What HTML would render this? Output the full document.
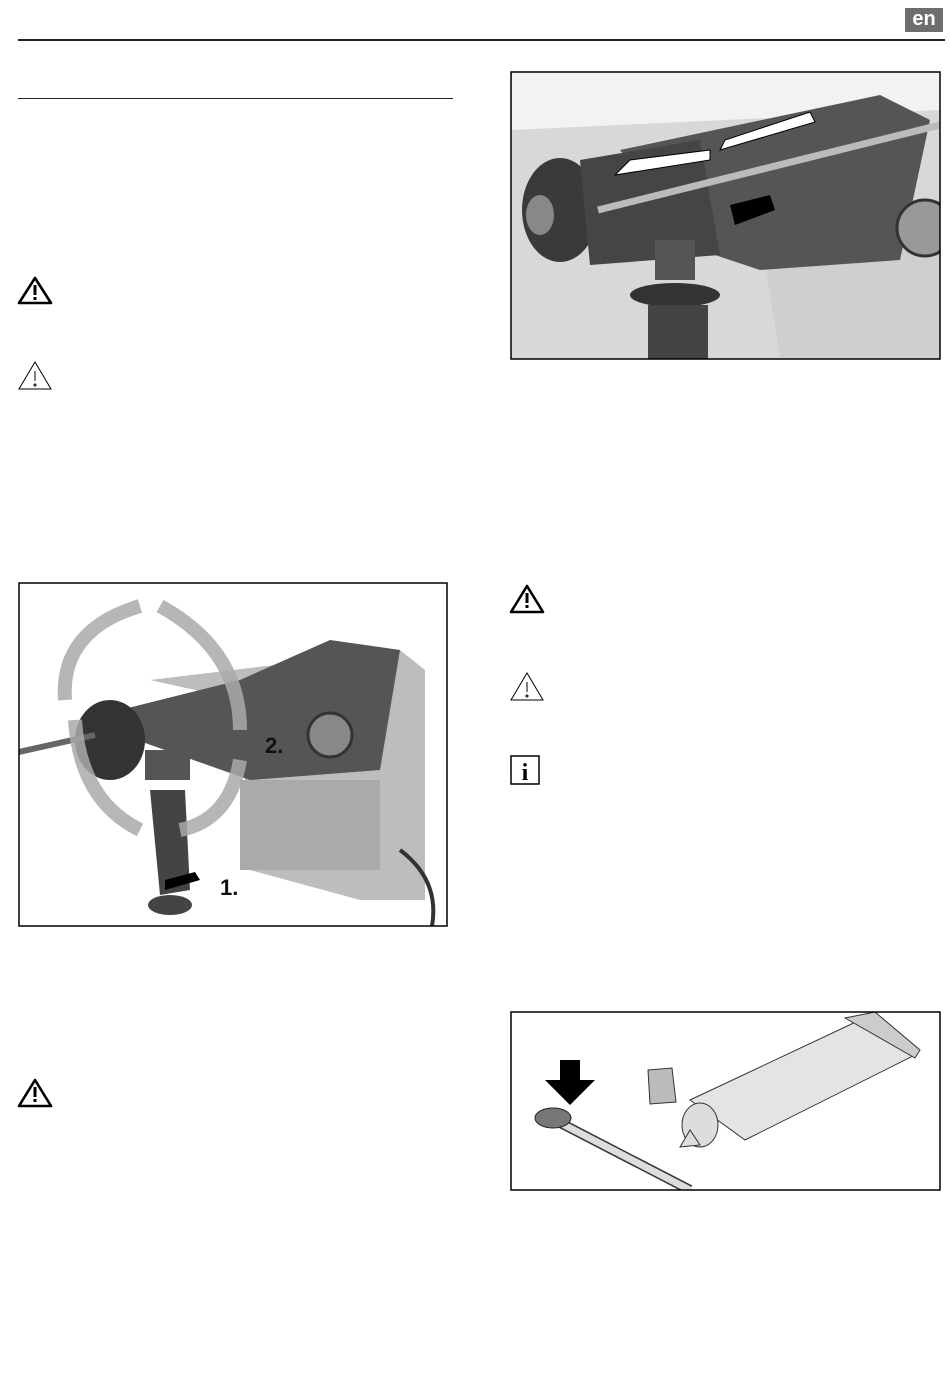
<!DOCTYPE html>
<html><head><meta charset="utf-8">
<style>
html,body{margin:0;padding:0;background:#fff;}
body{width:950px;height:1389px;position:relative;overflow:hidden;font-family:"Liberation Sans",sans-serif;}
.abs{position:absolute;}
</style></head><body>
<div class="abs" style="left:905px;top:8px;width:38px;height:24px;background:#6e6e6e;color:#fff;font-weight:bold;font-size:20px;line-height:23px;text-align:center;">en</div>
<div class="abs" style="left:18px;top:39px;width:927px;height:2px;background:#222;"></div>
<div class="abs" style="left:18px;top:98px;width:435px;height:1px;background:#222;"></div>

<svg class="abs" style="left:0;top:0" width="950" height="1389">
 <defs>
  <clipPath id="c1"><rect x="511" y="72" width="429" height="287"/></clipPath>
  <clipPath id="c2"><rect x="19" y="583" width="428" height="343"/></clipPath>
  <clipPath id="c3"><rect x="511" y="1012" width="429" height="178"/></clipPath>
 </defs>
 <g fill="none" stroke="#000" stroke-width="2.6" stroke-linejoin="round">
  <path d="M35 278 L51 303 L19 303 Z"/>
  <path d="M35 1080 L51 1106 L19 1106 Z"/>
  <path d="M527 586 L543 612 L511 612 Z"/>
 </g>
 <g fill="#000"><rect x="33.5" y="285" width="3" height="10"/><rect x="33.5" y="297" width="3" height="3"/>
  <rect x="33.5" y="1087" width="3" height="10"/><rect x="33.5" y="1099" width="3" height="3"/>
  <rect x="525.5" y="593" width="3" height="10"/><rect x="525.5" y="605" width="3" height="3"/></g>
 <g fill="none" stroke="#000" stroke-width="1">
  <path d="M35 362 L51 389 L19 389 Z"/><line x1="35" y1="371" x2="35" y2="381"/><circle cx="35" cy="385" r="1"/>
  <path d="M527 673 L543 700 L511 700 Z"/><line x1="527" y1="682" x2="527" y2="692"/><circle cx="527" cy="696" r="1"/>
 </g>
 <rect x="511" y="756" width="28" height="28" fill="none" stroke="#000" stroke-width="1.5"/>
 <text x="525" y="780" font-family="Liberation Serif,serif" font-weight="bold" font-size="24" text-anchor="middle">i</text>

 <g clip-path="url(#c1)">
 <rect x="511" y="72" width="429" height="287" fill="#d8d8d8"/>
 <path d="M512 72 L940 72 L940 110 L512 130 Z" fill="#f2f2f2"/>
 <path d="M760 230 L940 200 L940 358 L780 358 Z" fill="#cfcfcf"/>
 <path d="M620 150 L880 95 L930 120 L900 260 L760 270 L700 250 Z" fill="#555"/>
 <ellipse cx="560" cy="210" rx="38" ry="52" fill="#3a3a3a"/>
 <ellipse cx="540" cy="215" rx="14" ry="20" fill="#888"/>
 <path d="M580 160 L700 140 L720 255 L590 265 Z" fill="#454545"/>
 <rect x="655" y="240" width="40" height="40" fill="#555"/>
 <ellipse cx="675" cy="295" rx="45" ry="12" fill="#333"/>
 <rect x="648" y="305" width="60" height="54" fill="#444"/>
 <line x1="598" y1="210" x2="940" y2="125" stroke="#bbb" stroke-width="7"/>
 <path d="M615 175 L710 160 L710 150 L630 160 Z" fill="#fff" stroke="#000"/>
 <path d="M720 150 L815 122 L810 112 L725 140 Z" fill="#fff" stroke="#000"/>
 <path d="M730 205 L770 195 L775 210 L735 225 Z" fill="#000"/>
 <circle cx="925" cy="228" r="28" fill="#999" stroke="#333" stroke-width="3"/>
 </g>
 <rect x="511" y="72" width="429" height="287" fill="none" stroke="#000" stroke-width="1.5"/>

 <g clip-path="url(#c2)">
 <rect x="19" y="583" width="428" height="343" fill="#fff"/>
 <path d="M150 680 L400 650 L425 670 L425 900 L360 900 L250 870 L240 700 Z" fill="#bdbdbd"/>
 <path d="M80 720 L240 680 L330 640 L400 650 L380 770 L250 780 Z" fill="#555"/>
 <ellipse cx="110" cy="740" rx="35" ry="40" fill="#333"/>
 <line x1="19" y1="752" x2="95" y2="735" stroke="#666" stroke-width="6"/>
 <circle cx="330" cy="735" r="22" fill="#888" stroke="#333" stroke-width="3"/>
 <rect x="240" y="780" width="140" height="90" fill="#aaa"/>
 <rect x="145" y="750" width="45" height="30" fill="#555"/>
 <path d="M150 790 L185 790 L190 890 L160 895 Z" fill="#444"/>
 <ellipse cx="170" cy="905" rx="22" ry="10" fill="#444"/>
 <path d="M400 850 Q440 880 432 926" stroke="#333" stroke-width="4" fill="none"/>
 <g fill="none" stroke="#aaa" stroke-width="14" opacity="0.85">
  <path d="M140 606 Q60 630 65 700"/>
  <path d="M160 606 Q240 650 240 730"/>
  <path d="M75 720 Q80 800 140 830"/>
  <path d="M240 760 Q230 820 180 830"/>
 </g>
 <text x="265" y="753" font-weight="bold" font-size="22" fill="#111">2.</text>
 <text x="220" y="895" font-weight="bold" font-size="22" fill="#111">1.</text>
 <path d="M165 880 L195 872 L200 880 L165 890 Z" fill="#000"/>
 </g>
 <rect x="19" y="583" width="428" height="343" fill="none" stroke="#000" stroke-width="1.5"/>

 <g clip-path="url(#c3)">
 <rect x="511" y="1012" width="429" height="178" fill="#fff"/>
 <path d="M690 1100 L860 1020 L915 1055 L745 1140 Z" fill="#e4e4e4" stroke="#333"/>
 <path d="M845 1018 L875 1012 L920 1050 L915 1058 Z" fill="#ccc" stroke="#333"/>
 <ellipse cx="700" cy="1125" rx="18" ry="22" fill="#ddd" stroke="#333"/>
 <path d="M690 1130 L680 1147 L700 1145 Z" fill="#ddd" stroke="#333"/>
 <path d="M648 1070 L672 1068 L676 1102 L650 1104 Z" fill="#bbb" stroke="#333"/>
 <line x1="545" y1="1115" x2="690" y2="1190" stroke="#333" stroke-width="10"/>
 <line x1="545" y1="1115" x2="690" y2="1190" stroke="#ddd" stroke-width="7"/>
 <ellipse cx="553" cy="1118" rx="18" ry="10" fill="#777" stroke="#222"/>
 <path d="M560 1060 L580 1060 L580 1080 L595 1080 L570 1105 L545 1080 L560 1080 Z" fill="#000"/>
 </g>
 <rect x="511" y="1012" width="429" height="178" fill="none" stroke="#000" stroke-width="1.5"/>
</svg>
</body></html>
